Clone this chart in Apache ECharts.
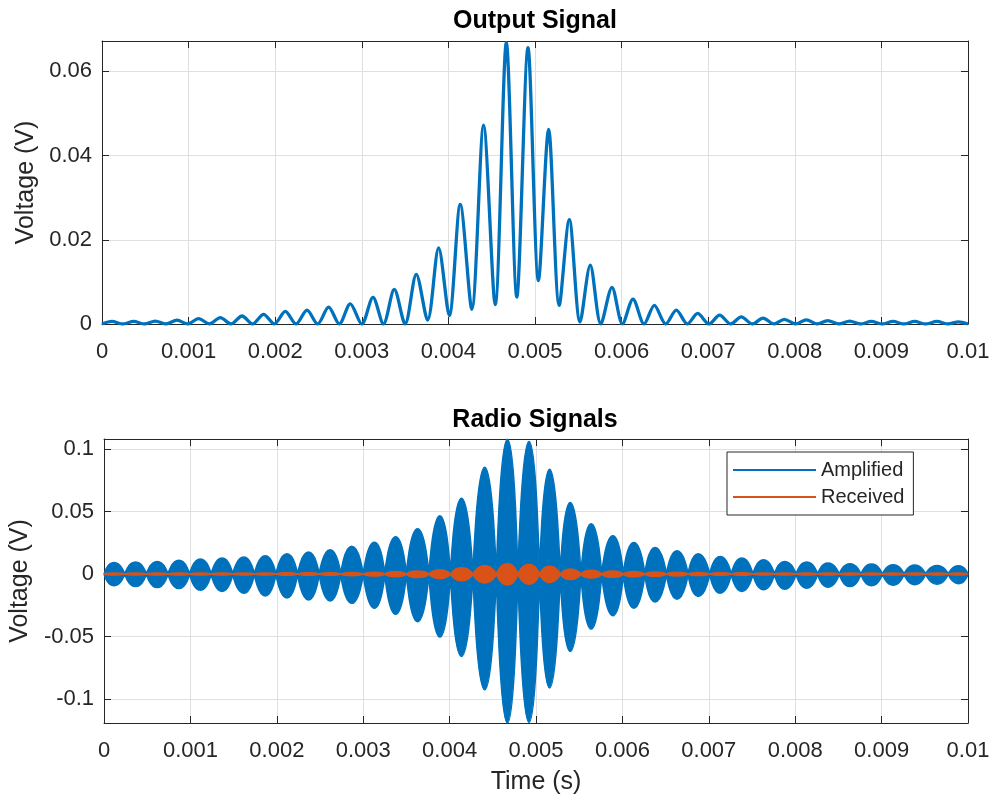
<!DOCTYPE html>
<html>
<head>
<meta charset="utf-8">
<script src="https://cdn.jsdelivr.net/npm/echarts@6.0.0/dist/echarts.min.js"></script>
<style>
html,body{margin:0;padding:0;background:#fff;}
#chart{width:996px;height:804px;}
</style>
</head>
<body>
<div id="chart"></div>
<script>
// ---- data ----
// centre times (s) of the 40 modulation lobes
const lobeTimes = [0.000115, 0.000365, 0.000615, 0.000866, 0.001115, 0.001366, 0.001617, 0.001866, 0.002117, 0.002367,
  0.002617, 0.002867, 0.003129, 0.003375, 0.003629, 0.003887, 0.004137, 0.004406, 0.004669, 0.004919,
  0.005157, 0.005396, 0.005638, 0.005889, 0.006132, 0.006378, 0.006632, 0.006878, 0.007132, 0.007382,
  0.007633, 0.007879, 0.008133, 0.008379, 0.008633, 0.008883, 0.009134, 0.009383, 0.009642, 0.009891];
// times (s) of the nulls between lobes (41 values, from 0 to 0.01)
const nullTimes = [0, 0.00024, 0.00049, 0.00074, 0.00099, 0.00124, 0.00149, 0.00174, 0.00199, 0.00224,
  0.00249, 0.00274, 0.003, 0.00325, 0.0035, 0.00376, 0.00401, 0.00427, 0.00454, 0.00479,
  0.00504, 0.00528, 0.00552, 0.00576, 0.00601, 0.00626, 0.00651, 0.00676, 0.00701, 0.00726,
  0.00751, 0.00776, 0.00801, 0.00826, 0.00851, 0.00876, 0.00901, 0.00926, 0.00951, 0.00977, 0.01];

// Output Signal: lobe peaks and the minima between lobes (V)
const outputPeaks = [0.0006, 0.0006, 0.0007, 0.0009, 0.0013, 0.0015, 0.0019, 0.0023, 0.003, 0.0033,
  0.004, 0.0048, 0.0063, 0.0082, 0.0118, 0.0181, 0.0284, 0.0472, 0.0668, 0.0656,
  0.0462, 0.0248, 0.014, 0.0087, 0.0059, 0.0044, 0.0033, 0.0025, 0.0021, 0.0017,
  0.0014, 0.0011, 0.001, 0.0008, 0.0007, 0.0006, 0.0006, 0.0006, 0.0006, 0.0005];
const outputMins = [0, 0, 0, 0, 0, 0, 0, 0, 0, 0,
  0, 0, 0, 0, 0, 0.0009, 0.002, 0.0035, 0.0046, 0.0064,
  0.0103, 0.0044, 0.0005, 0, 0, 0, 0, 0, 0, 0,
  0, 0, 0, 0, 0, 0, 0, 0, 0, 0, 0];

// Radio Signals: envelope extremes of each lobe (V)
const amplifiedUpper = [0.0093, 0.0096, 0.0101, 0.011, 0.012, 0.0128, 0.0136, 0.0147, 0.0163, 0.0176,
  0.0195, 0.0222, 0.0254, 0.0298, 0.0362, 0.0466, 0.0607, 0.0855, 0.1078, 0.106,
  0.0839, 0.0572, 0.0402, 0.0306, 0.0253, 0.0213, 0.0186, 0.0162, 0.0141, 0.0128,
  0.0114, 0.0101, 0.0096, 0.0088, 0.0083, 0.008, 0.0075, 0.0072, 0.0069, 0.0067];
const amplifiedLower = [-0.0093, -0.0099, -0.0107, -0.0115, -0.0128, -0.0139, -0.0152, -0.0174, -0.019, -0.0206,
  -0.0214, -0.0233, -0.0273, -0.0321, -0.038, -0.0503, -0.0658, -0.0924, -0.119, -0.1185,
  -0.091, -0.0618, -0.0439, -0.0333, -0.0272, -0.0222, -0.02, -0.0178, -0.0152, -0.0138,
  -0.0125, -0.012, -0.0112, -0.0104, -0.0099, -0.0093, -0.0088, -0.0085, -0.008, -0.0077];
const receivedUpper = [0.0008, 0.0008, 0.0008, 0.0008, 0.0008, 0.0008, 0.0008, 0.0008, 0.001, 0.001,
  0.001, 0.0012, 0.0015, 0.002, 0.0025, 0.0035, 0.005, 0.0066, 0.0082, 0.0076,
  0.0062, 0.0041, 0.003, 0.0025, 0.002, 0.0017, 0.0014, 0.0012, 0.001, 0.001,
  0.0008, 0.0008, 0.0008, 0.0008, 0.0008, 0.0008, 0.0008, 0.0008, 0.0008, 0.0008];
const receivedLower = [-0.0008, -0.0008, -0.0008, -0.0008, -0.0008, -0.0008, -0.0008, -0.0008, -0.001, -0.001,
  -0.001, -0.0013, -0.0016, -0.0021, -0.0027, -0.0037, -0.0053, -0.007, -0.0086, -0.0081,
  -0.0066, -0.0044, -0.0032, -0.0026, -0.0021, -0.0018, -0.0015, -0.0012, -0.001, -0.001,
  -0.0008, -0.0008, -0.0008, -0.0008, -0.0008, -0.0008, -0.0008, -0.0008, -0.0008, -0.0008];

// axis ranges and tick labels
const xRange = [0, 0.01];
const xTickValues = [0, 0.001, 0.002, 0.003, 0.004, 0.005, 0.006, 0.007, 0.008, 0.009, 0.01];
const xTickLabels = ['0', '0.001', '0.002', '0.003', '0.004', '0.005', '0.006', '0.007', '0.008', '0.009', '0.01'];
const topYRange = [0, 0.0672];
const topYTickValues = [0, 0.02, 0.04, 0.06];
const topYTickLabels = ['0', '0.02', '0.04', '0.06'];
const botYRange = [-0.119, 0.108];
const botYTickValues = [-0.1, -0.05, 0, 0.05, 0.1];
const botYTickLabels = ['-0.1', '-0.05', '0', '0.05', '0.1'];

// ---- build series data ----
function outputLine() {
  const d = [];
  for (let k = 0; k < lobeTimes.length; k++) {
    d.push([nullTimes[k], outputMins[k]]);
    d.push([lobeTimes[k], outputPeaks[k]]);
  }
  d.push([nullTimes[lobeTimes.length], outputMins[lobeTimes.length]]);
  return d;
}
function envelope(vals) {
  const d = [];
  for (let k = 0; k < lobeTimes.length; k++) {
    d.push([nullTimes[k], 0]);
    d.push([lobeTimes[k], vals[k]]);
    d.push([nullTimes[k + 1], 0]);
    d.push([nullTimes[k + 1], '-']);
  }
  return d;
}
function labelFrom(values, labels) {
  return function (v) {
    for (let i = 0; i < values.length; i++) {
      if (Math.abs(values[i] - v) < 1e-9) return labels[i];
    }
    return '';
  };
}

const FONT = "'Liberation Sans', Arial, Helvetica, sans-serif";
const AX = '#262626';
const GRIDC = '#dfdfdf';
const BLUE = '#0072BD';
const ORANGE = '#D95319';

function xAxisPair(gi, withName) {
  const base = {
    type: 'value', gridIndex: gi, min: xRange[0], max: xRange[1], interval: 0.001,
    axisLine: { show: true, onZero: false, lineStyle: { color: AX, width: 1 } },
    axisTick: { show: true, inside: true, length: 7, lineStyle: { color: AX, width: 1 } }
  };
  const bottom = Object.assign({}, base, {
    position: 'bottom',
    axisLabel: { show: true, fontSize: 22, color: AX, fontFamily: FONT, margin: 17,
      formatter: labelFrom(xTickValues, xTickLabels) },
    splitLine: { show: true, lineStyle: { color: GRIDC, width: 1 } }
  });
  if (withName) {
    Object.assign(bottom, {
      name: 'Time (s)', nameLocation: 'middle', nameGap: 47,
      nameTextStyle: { fontSize: 25, color: AX, fontFamily: FONT }
    });
  }
  const top = Object.assign({}, base, {
    position: 'top', axisLabel: { show: false }, splitLine: { show: false }
  });
  return [bottom, top];
}
function yAxisPair(gi, range, split, tv, tl, nameGap) {
  const base = {
    type: 'value', gridIndex: gi, min: range[0], max: range[1], splitNumber: split,
    axisLine: { show: true, onZero: false, lineStyle: { color: AX, width: 1 } },
    axisTick: { show: true, inside: true, length: 7, lineStyle: { color: AX, width: 1 } }
  };
  const left = Object.assign({}, base, {
    position: 'left',
    axisLabel: { show: true, fontSize: 22, color: AX, fontFamily: FONT, margin: 10,
      formatter: labelFrom(tv, tl) },
    splitLine: { show: true, lineStyle: { color: GRIDC, width: 1 } },
    name: 'Voltage (V)', nameLocation: 'middle', nameGap: nameGap,
    nameTextStyle: { fontSize: 25, color: AX, fontFamily: FONT }
  });
  const right = Object.assign({}, base, {
    position: 'right', axisLabel: { show: false }, splitLine: { show: false }
  });
  return [left, right];
}

function envSeries(name, vals, color, z) {
  return {
    name: name, type: 'line', xAxisIndex: 2, yAxisIndex: 2, z: z,
    data: envelope(vals), smooth: 0.7, showSymbol: false, symbol: 'none',
    connectNulls: false, silent: true, animation: false,
    lineStyle: { color: color, width: 1.5 },
    itemStyle: { color: color },
    areaStyle: { color: color, opacity: 1 }
  };
}

const chart = echarts.init(document.getElementById('chart'), null, { renderer: 'canvas' });
chart.setOption({
  animation: false,
  backgroundColor: '#fff',
  textStyle: { fontFamily: FONT },
  grid: [
    { left: 102, top: 41, width: 866, height: 283 },
    { left: 102, top: 439, width: 866, height: 284 }
  ],
  xAxis: [].concat(xAxisPair(0, false), xAxisPair(1, true)),
  yAxis: [].concat(
    yAxisPair(0, topYRange, 4, topYTickValues, topYTickLabels, 60),
    yAxisPair(1, botYRange, 5, botYTickValues, botYTickLabels, 69)
  ),
  legend: {
    data: ['Amplified', 'Received'], orient: 'vertical', left: 727, top: 452,
    icon: 'rect', itemWidth: 83, itemHeight: 2, itemGap: 7,
    padding: [8, 9, 8, 6], borderColor: AX, borderWidth: 1, borderRadius: 0,
    backgroundColor: '#fff', selectedMode: false,
    textStyle: { fontSize: 20, color: AX, fontFamily: FONT }
  },
  graphic: [
    { type: 'text', x: 535, y: 9, silent: true,
      style: { text: 'Output Signal', align: 'center', verticalAlign: 'top', textAlign: 'center', textVerticalAlign: 'top',
        fontSize: 25, fontWeight: 'bold', fontFamily: FONT, fill: '#000' } },
    { type: 'text', x: 535, y: 408, silent: true,
      style: { text: 'Radio Signals', align: 'center', verticalAlign: 'top', textAlign: 'center', textVerticalAlign: 'top',
        fontSize: 25, fontWeight: 'bold', fontFamily: FONT, fill: '#000' } }
  ],
  series: [
    {
      name: 'Output', type: 'line', xAxisIndex: 0, yAxisIndex: 0,
      data: outputLine(), smooth: 0.3, showSymbol: false, symbol: 'none',
      silent: true, animation: false,
      lineStyle: { color: BLUE, width: 3.3 }, itemStyle: { color: BLUE }
    },
    envSeries('Amplified', amplifiedUpper, BLUE, 2),
    envSeries('Amplified', amplifiedLower, BLUE, 2),
    envSeries('Received', receivedUpper, ORANGE, 3),
    envSeries('Received', receivedLower, ORANGE, 3)
  ]
});
</script>
</body>
</html>
